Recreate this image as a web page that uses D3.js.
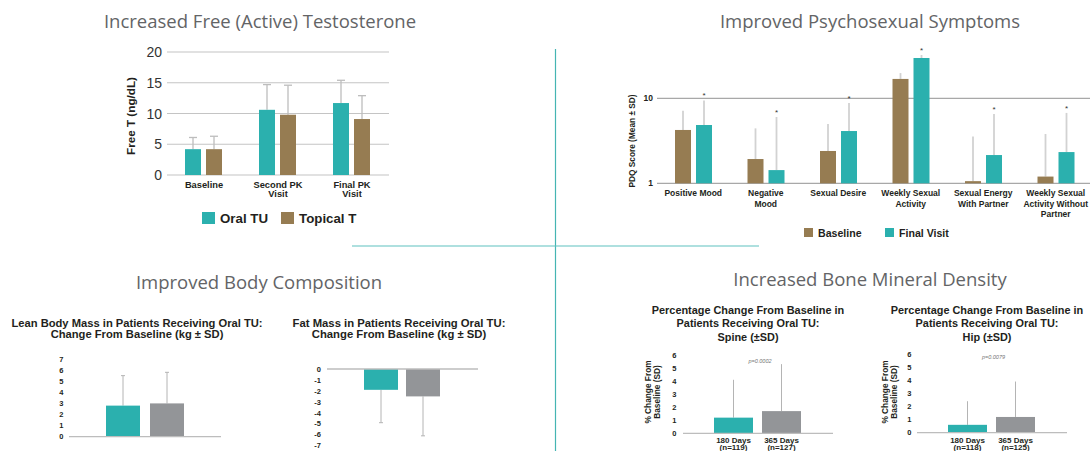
<!DOCTYPE html>
<html>
<head>
<meta charset="utf-8">
<script src="https://cdn.jsdelivr.net/npm/d3@7"></script>
<style>
  html, body { margin: 0; padding: 0; background: #fff; }
  svg { display: block; }
  .sect { font-family: "Open Sans", sans-serif; fill: #636466; }
  .lbl { font-family: "Liberation Sans", Arial, sans-serif; fill: #231f20; font-weight: bold; }
</style>
</head>
<body>
<svg id="chart" width="1090" height="451"></svg>
<script>
// ---------- Free testosterone (ng/dL) ----------
const ftCategories = ["Baseline", "Second PK\nVisit", "Final PK\nVisit"];
const ftOralMean = [4.2, 10.6, 11.7];
const ftOralSD = [1.9, 4.1, 3.7];
const ftTopicalMean = [4.2, 9.8, 9.1];
const ftTopicalSD = [2.1, 4.8, 3.8];
const ftTicks = [0, 5, 10, 15, 20];
const ftSeries = ["Oral TU", "Topical T"];

// ---------- PDQ scores (log scale) ----------
const pdqCategories = ["Positive Mood", "Negative\nMood", "Sexual Desire", "Weekly Sexual\nActivity",
  "Sexual Energy\nWith Partner", "Weekly Sexual\nActivity Without\nPartner"];
const pdqBaselineMean = [4.24, 1.93, 2.4, 16.9, 1.06, 1.2];
const pdqBaselineSD = [2.9, 2.5, 2.6, 2.9, 2.5, 2.6];
const pdqFinalMean = [4.85, 1.43, 4.12, 29.8, 2.15, 2.33];
const pdqFinalSD = [4.6, 4.6, 4.7, 2.5, 4.4, 4.4];
const pdqTicks = [1, 10];
const pdqSeries = ["Baseline", "Final Visit"];

// ---------- Body composition (kg change) ----------
const leanMean = [2.8, 3.0];
const leanSD = [2.7, 2.8];
const leanTicks = [0, 1, 2, 3, 4, 5, 6, 7];
const fatMean = [-1.9, -2.5];
const fatSD = [3.0, 3.6];
const fatTicks = [0, -1, -2, -3, -4, -5, -6, -7];

// ---------- Bone mineral density (% change) ----------
const bmdCategoriesSpine = ["180 Days\n(n=119)", "365 Days\n(n=127)"];
const bmdCategoriesHip = ["180 Days\n(n=118)", "365 Days\n(n=125)"];
const spineMean = [1.2, 1.7];
const spineSD = [2.9, 3.6];
const hipMean = [0.6, 1.2];
const hipSD = [1.8, 2.7];
const bmdTicks = [0, 1, 2, 3, 4, 5, 6];
const spinePValue = "p=0.0002";
const hipPValue = "p=0.0079";

const TEAL = "#2bb0ae", BROWN = "#967c52", GRAY = "#939598";
const svg = d3.select("#chart");

function multiline(sel, text, x, y, lh) {
  text.split("\n").forEach((t, i) => {
    sel.append("tspan").attr("x", x).attr("y", y + i * lh).text(t);
  });
}

// ---------- section titles & dividers ----------
const sections = [
  { t: "Increased Free (Active) Testosterone", x: 260, y: 28 },
  { t: "Improved Psychosexual Symptoms", x: 870, y: 28 },
  { t: "Improved Body Composition", x: 259, y: 289 },
  { t: "Increased Bone Mineral Density", x: 870, y: 286 }
];
svg.selectAll("text.sect").data(sections).join("text")
  .attr("class", "sect").attr("x", d => d.x).attr("y", d => d.y)
  .attr("text-anchor", "middle").attr("font-size", 18.5).text(d => d.t);

svg.append("line").attr("x1", 555.5).attr("x2", 555.5).attr("y1", 49).attr("y2", 451)
  .attr("stroke", "#45b5b3").attr("stroke-width", 1.2);
svg.append("line").attr("x1", 352).attr("x2", 759).attr("y1", 246).attr("y2", 246)
  .attr("stroke", "#5fc2c0").attr("stroke-width", 1.2);

// ---------- Chart 1: Free T grouped bars ----------
(function () {
  const g = svg.append("g");
  const x = d3.scaleBand().domain(ftCategories).range([167, 389]);
  const x1 = d3.scaleBand().domain(ftSeries).range([18, 55]).paddingInner(5 / 21);
  const y = d3.scaleLinear().domain([0, 20]).range([175, 52]);

  g.selectAll("line.grid").data(ftTicks).join("line")
    .attr("x1", 167).attr("x2", 389).attr("y1", d => y(d)).attr("y2", d => y(d))
    .attr("stroke", "#c4c4c4").attr("stroke-width", 1.2);
  g.selectAll("text.tick").data(ftTicks).join("text")
    .attr("x", 162).attr("y", d => y(d) + 5).attr("text-anchor", "end")
    .attr("font-family", "Liberation Sans, Arial").attr("font-size", 14).attr("fill", "#333")
    .text(d => d);

  const rows = ftCategories.map((c, i) => [
    { c, s: ftSeries[0], v: ftOralMean[i], sd: ftOralSD[i], col: TEAL },
    { c, s: ftSeries[1], v: ftTopicalMean[i], sd: ftTopicalSD[i], col: BROWN }
  ]).flat();

  rows.forEach(d => {
    const cx = x(d.c) + x1(d.s) + x1.bandwidth() / 2;
    g.append("line").attr("x1", cx).attr("x2", cx).attr("y1", y(d.v)).attr("y2", y(d.v + d.sd))
      .attr("stroke", "#bdbdbd").attr("stroke-width", 1.3);
    g.append("line").attr("x1", cx - 4).attr("x2", cx + 4).attr("y1", y(d.v + d.sd)).attr("y2", y(d.v + d.sd))
      .attr("stroke", "#bdbdbd").attr("stroke-width", 1.3);
  });
  g.selectAll("rect.bar").data(rows).join("rect")
    .attr("x", d => x(d.c) + x1(d.s)).attr("width", x1.bandwidth())
    .attr("y", d => y(d.v)).attr("height", d => y(0) - y(d.v)).attr("fill", d => d.col);

  ftCategories.forEach(c => {
    const t = g.append("text").attr("class", "lbl").attr("text-anchor", "middle").attr("font-size", 9.3);
    multiline(t, c, x(c) + x.bandwidth() / 2, 188, 9.3);
  });

  g.append("text").attr("class", "lbl").attr("font-size", 11.7).attr("text-anchor", "middle")
    .attr("transform", "translate(135,116) rotate(-90)").text("Free T (ng/dL)");

  // legend
  const leg = [{ s: ftSeries[0], col: TEAL, x: 202 }, { s: ftSeries[1], col: BROWN, x: 281 }];
  leg.forEach(d => {
    g.append("rect").attr("x", d.x).attr("y", 212).attr("width", 13).attr("height", 12).attr("fill", d.col);
    g.append("text").attr("class", "lbl").attr("x", d.x + 18).attr("y", 223).attr("font-size", 13.3).text(d.s);
  });
})();

// ---------- Chart 2: PDQ grouped bars, log scale ----------
(function () {
  const g = svg.append("g");
  const x = d3.scaleBand().domain(pdqCategories).range([657, 1092]);
  const x1 = d3.scaleBand().domain(pdqSeries).range([18, 55]).paddingInner(5 / 21);
  const y = d3.scaleLog().domain([1, 10]).range([183.3, 98.3]);

  g.selectAll("line.grid").data(pdqTicks).join("line")
    .attr("x1", 657).attr("x2", 1092).attr("y1", d => y(d)).attr("y2", d => y(d))
    .attr("stroke", "#a8a8a8").attr("stroke-width", 1.2);
  g.selectAll("text.tick").data(pdqTicks).join("text")
    .attr("class", "lbl").attr("x", 653).attr("y", d => y(d) + 3).attr("text-anchor", "end")
    .attr("font-size", 8.5).text(d => d);

  const rows = pdqCategories.map((c, i) => [
    { c, s: pdqSeries[0], v: pdqBaselineMean[i], sd: pdqBaselineSD[i], col: BROWN, star: false },
    { c, s: pdqSeries[1], v: pdqFinalMean[i], sd: pdqFinalSD[i], col: TEAL, star: true }
  ]).flat();

  rows.forEach(d => {
    const cx = x(d.c) + x1(d.s) + x1.bandwidth() / 2;
    g.append("line").attr("x1", cx).attr("x2", cx).attr("y1", y(d.v)).attr("y2", y(d.v + d.sd))
      .attr("stroke", "#d2d2d2").attr("stroke-width", 1.8);
    if (d.star) {
      g.append("text").attr("x", cx).attr("y", y(d.v + d.sd) - 2).attr("text-anchor", "middle")
        .attr("font-family", "Liberation Sans, Arial").attr("font-size", 8).attr("fill", "#333").text("*");
    }
  });
  g.selectAll("rect.bar").data(rows).join("rect")
    .attr("x", d => x(d.c) + x1(d.s)).attr("width", x1.bandwidth())
    .attr("y", d => y(d.v)).attr("height", d => y(1) - y(d.v)).attr("fill", d => d.col);

  pdqCategories.forEach(c => {
    const t = g.append("text").attr("class", "lbl").attr("text-anchor", "middle").attr("font-size", 8.5);
    multiline(t, c, x(c) + x.bandwidth() / 2, 196, 10.5);
  });

  g.append("text").attr("class", "lbl").attr("font-size", 8.3).attr("text-anchor", "middle")
    .attr("transform", "translate(635,141) rotate(-90)").text("PDQ Score (Mean ± SD)");

  const leg = [{ s: pdqSeries[0], col: BROWN, x: 804 }, { s: pdqSeries[1], col: TEAL, x: 885 }];
  leg.forEach(d => {
    g.append("rect").attr("x", d.x).attr("y", 228).attr("width", 9).attr("height", 9).attr("fill", d.col);
    g.append("text").attr("class", "lbl").attr("x", d.x + 14).attr("y", 236.5).attr("font-size", 10.6).text(d.s);
  });
})();

// ---------- Small two-bar charts ----------
function smallChart(o) {
  const g = svg.append("g");
  const ids = o.mean.map((_, i) => i);
  const x = d3.scaleBand().domain(ids).range(o.bars).paddingInner(o.gap);
  const y = d3.scaleLinear().domain(o.domain).range(o.yRange);

  const tt = g.append("text").attr("class", "lbl").attr("text-anchor", "middle").attr("font-size", o.titleSize);
  multiline(tt, o.title, o.titleX, o.titleY, o.titleLH);

  g.selectAll("text.tick").data(o.ticks).join("text")
    .attr("class", "lbl").attr("x", o.tickX).attr("y", d => y(d) + 2.7).attr("text-anchor", "end")
    .attr("font-size", 7.5).text(d => d);

  const rows = ids.map(i => ({ i, v: o.mean[i], sd: o.sd[i], col: i === 0 ? TEAL : GRAY }));
  rows.forEach(d => {
    const cx = x(d.i) + x.bandwidth() / 2;
    const end = d.v >= 0 ? d.v + d.sd : d.v - d.sd;
    g.append("line").attr("x1", cx).attr("x2", cx).attr("y1", y(d.v)).attr("y2", y(end))
      .attr("stroke", "#b4b4b4").attr("stroke-width", 1);
    if (o.caps) {
      g.append("line").attr("x1", cx - 2).attr("x2", cx + 2).attr("y1", y(end)).attr("y2", y(end))
        .attr("stroke", "#b4b4b4").attr("stroke-width", 1);
    }
  });
  g.selectAll("rect.bar").data(rows).join("rect")
    .attr("x", d => x(d.i)).attr("width", x.bandwidth())
    .attr("y", d => y(Math.max(0, d.v))).attr("height", d => Math.abs(y(d.v) - y(0)))
    .attr("fill", d => d.col);

  g.append("line").attr("x1", o.axis[0]).attr("x2", o.axis[1]).attr("y1", y(0)).attr("y2", y(0))
    .attr("stroke", "#bdbdbd").attr("stroke-width", 1.3);

  if (o.cats) {
    o.cats.forEach((c, i) => {
      const t = g.append("text").attr("class", "lbl").attr("text-anchor", "middle").attr("font-size", 8);
      multiline(t, c, x(i) + x.bandwidth() / 2, 442.5, 7.8);
    });
  }
  if (o.yLabel) {
    const t = g.append("text").attr("class", "lbl").attr("text-anchor", "middle").attr("font-size", 8.3)
      .attr("transform", `translate(${o.yLabelX},392) rotate(-90)`);
    multiline(t, o.yLabel, 0, 0, 9);
  }
  if (o.p) {
    g.append("text").attr("x", o.pX).attr("y", o.pY).attr("text-anchor", "middle")
      .attr("font-family", "Liberation Sans, Arial").attr("font-style", "italic")
      .attr("font-size", 5.5).attr("fill", "#777").text(o.p);
  }
}

smallChart({
  title: "Lean Body Mass in Patients Receiving Oral TU:\nChange From Baseline (kg ± SD)",
  titleX: 137, titleY: 327, titleLH: 10.8, titleSize: 11.2,
  mean: leanMean, sd: leanSD, ticks: leanTicks, domain: [0, 7], yRange: [436.7, 359],
  bars: [106, 184], gap: 10 / 44, axis: [69, 221], tickX: 63.5, caps: true
});
smallChart({
  title: "Fat Mass in Patients Receiving Oral TU:\nChange From Baseline (kg ± SD)",
  titleX: 399, titleY: 327, titleLH: 10.8, titleSize: 11.3,
  mean: fatMean, sd: fatSD, ticks: fatTicks, domain: [-7, 0], yRange: [445.7, 369],
  bars: [364, 440], gap: 8 / 42, axis: [327, 478], tickX: 321, caps: true
});
smallChart({
  title: "Percentage Change From Baseline in\nPatients Receiving Oral TU:\nSpine (±SD)",
  titleX: 748, titleY: 314, titleLH: 13.3, titleSize: 10.9,
  mean: spineMean, sd: spineSD, ticks: bmdTicks, domain: [0, 6], yRange: [433.3, 355],
  bars: [714, 801], gap: 9 / 48, axis: [683, 833], tickX: 676.5, caps: false,
  cats: bmdCategoriesSpine, yLabel: "% Change From\nBaseline (SD)", yLabelX: 651,
  p: spinePValue, pX: 760, pY: 363
});
smallChart({
  title: "Percentage Change From Baseline in\nPatients Receiving Oral TU:\nHip (±SD)",
  titleX: 987, titleY: 314, titleLH: 13.3, titleSize: 10.9,
  mean: hipMean, sd: hipSD, ticks: bmdTicks, domain: [0, 6], yRange: [432.7, 354],
  bars: [948, 1035], gap: 9 / 48, axis: [917, 1067], tickX: 911.5, caps: false,
  cats: bmdCategoriesHip, yLabel: "% Change From\nBaseline (SD)", yLabelX: 888,
  p: hipPValue, pX: 993.5, pY: 359
});
</script>
</body>
</html>
